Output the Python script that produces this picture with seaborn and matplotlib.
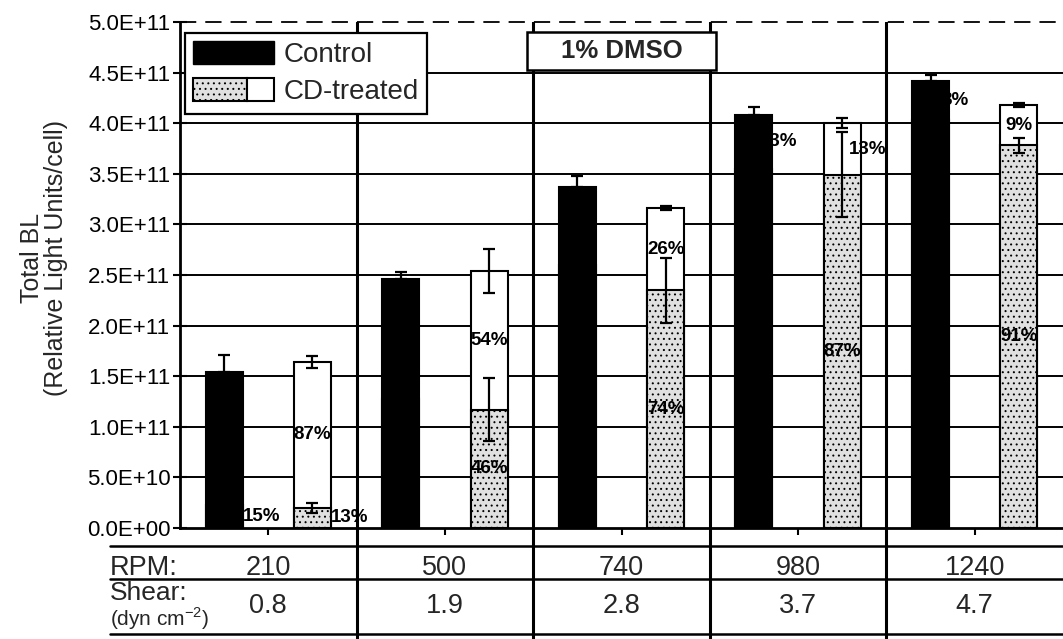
import numpy as np
import pandas as pd
import matplotlib
matplotlib.use("Agg")
import matplotlib.pyplot as plt
import seaborn as sns
from matplotlib.patches import Rectangle
from matplotlib.lines import Line2D
from matplotlib.legend_handler import HandlerBase
from matplotlib.ticker import FuncFormatter, MultipleLocator
import matplotlib.transforms as mtransforms

# ---------------- data ----------------
rpm = ["210", "500", "740", "980", "1240"]
shear = ["0.8", "1.9", "2.8", "3.7", "4.7"]

control_total = [1.54e11, 2.46e11, 3.37e11, 4.08e11, 4.42e11]
control_total_err = [0.17e11, 0.07e11, 0.11e11, 0.08e11, 0.06e11]
control_bottom = [0.23e11, 1.27e11, 2.60e11, 3.55e11, 4.03e11]
control_bottom_pct = ["15%", "52%", "77%", "87%", "92%"]
control_top_pct = ["85%", "48%", "23%", "13%", "8%"]

cd_total = [1.64e11, 2.54e11, 3.16e11, 4.00e11, 4.18e11]
cd_total_err = [0.06e11, 0.22e11, 0.02e11, 0.05e11, 0.02e11]
cd_bottom = [0.20e11, 1.17e11, 2.35e11, 3.49e11, 3.78e11]
cd_bottom_err = [0.05e11, 0.31e11, 0.32e11, 0.42e11, 0.07e11]
cd_bottom_pct = ["13%", "46%", "74%", "87%", "91%"]
cd_top_pct = ["87%", "54%", "26%", "13%", "9%"]

# label layout (which top labels sit at the bar's right edge)
ctrl_top_at_edge = [False, False, False, True, True]
cd_top_at_edge = [False, False, False, True, False]

# ---------------- style ----------------
sns.set_theme(style="white")
plt.rcParams["font.family"] = ["Liberation Sans", "DejaVu Sans"]
plt.rcParams["hatch.linewidth"] = 0.7

W, H = 1063, 639
fig = plt.figure(figsize=(W / 100, H / 100), dpi=100)
fig.patch.set_facecolor("white")
ax = fig.add_axes([180 / W, 1 - 528 / H, 883 / W, 506 / H])
ax.set_facecolor("white")

GRAY = "#e0e0e0"
HATCH = "..."
hue_order = ["Control", "spacer", "CD-treated"]

df_total = pd.DataFrame({
    "RPM": rpm + rpm,
    "Series": ["Control"] * len(rpm) + ["CD-treated"] * len(rpm),
    "Value": control_total + cd_total,
})
df_lower = pd.DataFrame({
    "RPM": rpm + rpm,
    "Series": ["Control"] * len(rpm) + ["CD-treated"] * len(rpm),
    "Value": control_bottom + cd_bottom,
})


def draw_layer(df, palette):
    n0 = len(ax.patches)
    sns.barplot(data=df, x="RPM", y="Value", hue="Series", order=rpm,
                hue_order=hue_order, palette=palette, saturation=1,
                width=0.75, gap=0.16, errorbar=None, legend=False,
                edgecolor="black", linewidth=1.5, ax=ax)
    new = ax.patches[n0:]
    out = {"Control": {}, "CD": {}}
    for p in new:
        cx = p.get_x() + p.get_width() / 2
        idx = int(round(cx))
        key = "Control" if cx < idx else "CD"
        out[key][idx] = p
    return out


tot = draw_layer(df_total, {"Control": "black", "spacer": "white", "CD-treated": "white"})
low = draw_layer(df_lower, {"Control": "black", "spacer": "white", "CD-treated": GRAY})
for p in low["CD"].values():
    p.set_hatch(HATCH)
    p.set_edgecolor("black")

n = len(rpm)
ctrl_x = np.array([tot["Control"][i].get_x() + tot["Control"][i].get_width() / 2 for i in range(n)])
cd_x = np.array([tot["CD"][i].get_x() + tot["CD"][i].get_width() / 2 for i in range(n)])
hw = tot["Control"][0].get_width() / 2

# error bars
eb = dict(fmt="none", ecolor="black", elinewidth=1.6, capsize=4.5, capthick=1.6, zorder=6)
ax.errorbar(ctrl_x, control_total, yerr=[np.zeros(n), control_total_err], **eb)
ax.errorbar(cd_x, cd_total, yerr=cd_total_err, **eb)
ax.errorbar(cd_x, cd_bottom, yerr=cd_bottom_err, **eb)

# axes, grid
ax.set_xlim(-0.5, 4.5)
ax.set_ylim(0, 5e11)
ax.set_xlabel("")
ax.set_ylabel("")
ax.set_xticks(range(n))
ax.set_xticklabels([])
ax.yaxis.set_major_locator(MultipleLocator(5e10))
ax.yaxis.set_major_formatter(FuncFormatter(lambda v, p: f"{v:.1E}"))
ax.tick_params(axis="y", direction="inout", length=10, width=1.5, labelsize=16,
               pad=2, colors="black", left=True)
ax.tick_params(axis="x", direction="out", length=5, width=1.5, colors="black", bottom=True)
for s in ["top", "right"]:
    ax.spines[s].set_visible(False)
for s in ["left", "bottom"]:
    ax.spines[s].set_color("black")
    ax.spines[s].set_linewidth(2)

for yv in np.arange(5e10, 5e11, 5e10):
    ax.axhline(yv, color="black", lw=1.4, zorder=0)
ax.axhline(5e11, color="black", lw=1.3, ls=(0, (9, 5)), zorder=0, clip_on=False)
for xb in np.arange(0.5, 4.5, 1.0):
    ax.axvline(xb, color="black", lw=2.2, zorder=0)

# percentage labels
lab = dict(fontsize=13.5, fontweight="bold", color="black", va="center", zorder=7)
for i in range(n):
    # control
    seg = control_bottom[i]
    if seg < 0.3e11:
        ax.text(ctrl_x[i] + hw, seg / 2, control_bottom_pct[i], ha="left", **lab)
    else:
        ax.text(ctrl_x[i], seg / 2, control_bottom_pct[i], ha="center", **lab)
    mid = (control_bottom[i] + control_total[i]) / 2
    x = ctrl_x[i] + hw + 0.035 if ctrl_top_at_edge[i] else ctrl_x[i]
    ax.text(x, mid, control_top_pct[i], ha="center", **lab)
    # CD-treated
    seg = cd_bottom[i]
    if seg < 0.3e11:
        ax.text(cd_x[i] + hw, seg / 2, cd_bottom_pct[i], ha="left", **lab)
    else:
        ax.text(cd_x[i], seg / 2, cd_bottom_pct[i], ha="center", **lab)
    mid = (cd_bottom[i] + cd_total[i]) / 2
    x = cd_x[i] + hw + 0.04 if cd_top_at_edge[i] else cd_x[i]
    ax.text(x, mid, cd_top_pct[i], ha="center", **lab)

# "1% DMSO" box
box_w, box_y0, box_h = 1.07, 4.53e11, 0.37e11
ax.add_patch(Rectangle((2 - box_w / 2, box_y0), box_w, box_h, facecolor="white",
                       edgecolor="black", lw=1.8, zorder=8))
ax.text(2, box_y0 + box_h / 2, "1% DMSO", ha="center", va="center", fontsize=18.5,
        fontweight="bold", zorder=9)


# legend
class SplitKey:
    pass


class SplitHandler(HandlerBase):
    def create_artists(self, legend, orig_handle, xdescent, ydescent, width, height,
                       fontsize, trans):
        w1 = width * 0.67
        r1 = Rectangle((-xdescent, -ydescent), w1, height, facecolor=GRAY,
                       edgecolor="black", hatch=HATCH, lw=1.5, transform=trans)
        r2 = Rectangle((-xdescent + w1, -ydescent), width - w1, height, facecolor="white",
                       edgecolor="black", lw=1.5, transform=trans)
        return [r1, r2]


leg = ax.legend([Rectangle((0, 0), 1, 1, facecolor="black", edgecolor="black"), SplitKey()],
                ["Control", "CD-treated"], handler_map={SplitKey: SplitHandler()},
                loc="upper left", bbox_to_anchor=(185 / W, 1 - 33 / H),
                bbox_transform=fig.transFigure, borderaxespad=0, fontsize=20,
                handlelength=2.9, handleheight=0.9, handletextpad=0.35,
                labelspacing=0.35, borderpad=0.3, frameon=True, fancybox=False,
                framealpha=1, edgecolor="black")
leg.get_frame().set_linewidth(1.6)
leg.set_zorder(10)

# y label
fig.text(44 / W, 1 - 258 / H, "Total BL\n(Relative Light Units/cell)", rotation=90,
         ha="center", va="center", fontsize=18, linespacing=1.0, multialignment="center")

# table below the axis
trans = mtransforms.blended_transform_factory(ax.transData, fig.transFigure)


def fy(px):
    return 1 - px / H


for ypx in [546, 579, 634]:
    fig.add_artist(Line2D([110 / W, 1.0], [fy(ypx)] * 2, transform=fig.transFigure,
                          color="black", lw=1.8))
for xb in np.arange(0.5, 4.5, 1.0):
    fig.add_artist(Line2D([xb, xb], [fy(528), 0], transform=trans, color="black", lw=2.2))

fig.text(110 / W, fy(575), "RPM:", ha="left", va="baseline", fontsize=19.5)
fig.text(110 / W, fy(600), "Shear:", ha="left", va="baseline", fontsize=19)
fig.text(110 / W, fy(626), r"(dyn cm$^{\mathregular{-2}}$)", ha="left", va="baseline",
         fontsize=15)
for i in range(n):
    fig.text(i, fy(575), rpm[i], transform=trans, ha="center", va="baseline", fontsize=19.5)
    fig.text(i, fy(613), shear[i], transform=trans, ha="center", va="baseline", fontsize=19.5)

fig.savefig("out.png", dpi=100, facecolor="white")
